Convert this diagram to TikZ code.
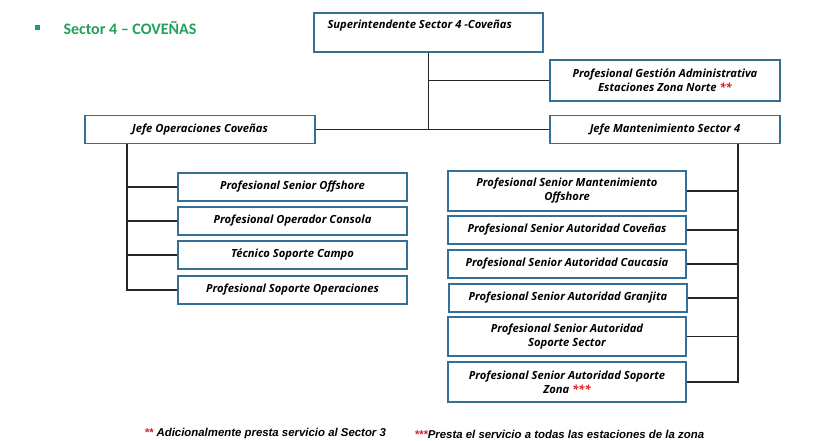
\documentclass[tikz,border=0pt]{standalone}
\usepackage{fontspec}
\setmainfont{Open Sans}
\newfontfamily\titlefont{Carlito}
\newfontfamily\notefont{Liberation Sans}
\usetikzlibrary{positioning}

\definecolor{boxblue}{RGB}{52,112,150}
\definecolor{titlegreen}{RGB}{34,160,90}
\definecolor{starred}{RGB}{220,30,40}

\tikzset{
  cargo/.style={draw=boxblue, line width=1.6pt, fill=white, inner sep=2pt, align=center,
    font=\fontsize{11.2}{14}\selectfont\bfseries\itshape},
  hijo/.style={cargo, minimum width=229pt, minimum height=28pt},
  hijod/.style={cargo, minimum width=238pt, minimum height=28pt},
  linea/.style={line width=1.2pt, black!85},
  nota/.style={anchor=west, font=\notefont\fontsize{11.4}{12}\selectfont\bfseries\itshape},
}
\newcommand{\rojo}[1]{\textcolor{starred}{#1}}

\begin{document}
\begin{tikzpicture}[x=1pt,y=-1pt]

\useasboundingbox (0,0) rectangle (830,441);

% titulo
\node [fill=titlegreen, minimum size=5pt, inner sep=0pt] (bala) at (37,28) {};
\node [anchor=west, text=titlegreen, font=\titlefont\fontsize{16}{18}\selectfont\bfseries] (titulo) at (60,28) {Sector 4 – COVEÑAS};

% cabeza
\node [cargo, minimum width=229pt, minimum height=39pt] (sup) at (428.5,32.5) {};
\node [anchor=west, font=\fontsize{11.2}{14}\selectfont\bfseries\itshape] (suptxt) at (324,26) {Superintendente Sector 4 -Coveñas};

\node [cargo, minimum width=230pt, minimum height=41pt] (pga) at (665,80.5) {Profesional Gestión Administrativa\\Estaciones Zona Norte \rojo{**}};
\node [cargo, minimum width=230pt, minimum height=28pt] (jop) at (200,129.5) {Jefe Operaciones Coveñas};
\node [cargo, minimum width=230pt, minimum height=28pt] (jmt) at (665,129.5) {Jefe Mantenimiento Sector 4};

% operaciones
\node [hijo] (pof) at (292.5,187) {Profesional Senior Offshore};
\node [hijo] (poc) at (292.5,221) {Profesional Operador Consola};
\node [hijo] (tsc) at (292.5,255) {Técnico Soporte Campo};
\node [hijo] (pso) at (292.5,290) {Profesional Soporte Operaciones};

% mantenimiento
\node [hijod, minimum height=40pt] (pmo) at (567,191) {Profesional Senior Mantenimiento\\Offshore};
\node [hijod] (pac) at (567,230) {Profesional Senior Autoridad Coveñas};
\node [hijod] (pau) at (567,264) {Profesional Senior Autoridad Caucasia};
\node [hijod] (pag) at (568,298) {Profesional Senior Autoridad Granjita};
\node [hijod, minimum height=39pt] (pss) at (567,336.5) {Profesional Senior Autoridad\\Soporte Sector};
\node [hijod, minimum height=40pt] (pzo) at (567,382) {Profesional Senior Autoridad Soporte\\Zona \rojo{***}};

% conectores
\draw[linea] (sup.south) -- (sup.south |- jop.east);
\draw[linea] (sup.south |- pga.west) -- (pga.west);
\draw[linea] (jop.east) -- (jmt.west);

\coordinate (lbus) at ([xshift=-73pt]jop.south);
\draw[linea] (lbus) |- (pso.west);
\foreach \n in {pof,poc,tsc}
  \draw[linea] (\n.west) -- (\n.west -| lbus);

\coordinate (rbus) at ([xshift=73pt]jmt.south);
\draw[linea] (rbus) |- (pzo.east);
\foreach \n in {pmo,pac,pau,pag,pss}
  \draw[linea] (\n.east) -- (\n.east -| rbus);

% notas
\node [nota] (nota1) at (141,434) {\rojo{**} Adicionalmente presta servicio al Sector 3};
\node [nota] (nota2) at (411,434) {\rojo{***}Presta el servicio a todas las estaciones de la zona};

\end{tikzpicture}
\end{document}
